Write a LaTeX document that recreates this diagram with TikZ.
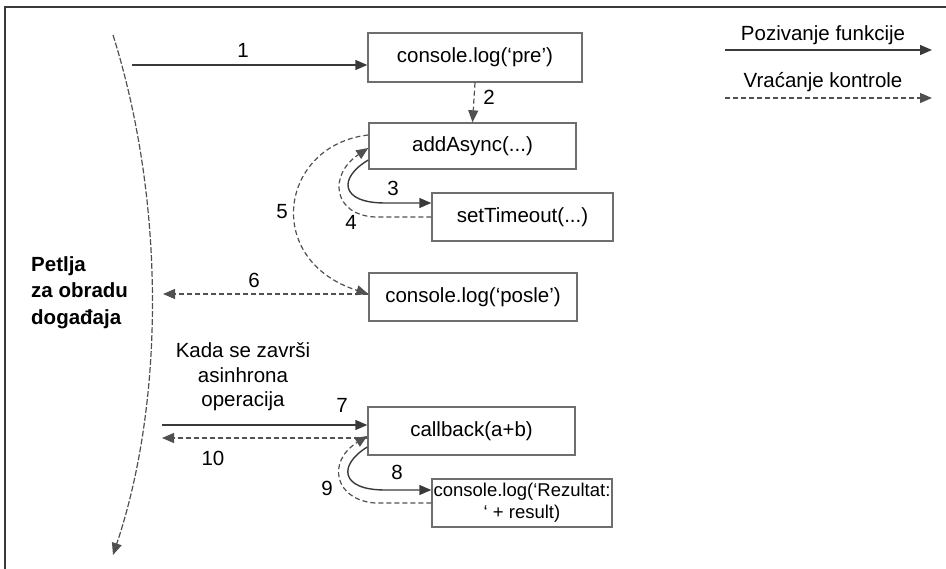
\documentclass[tikz,border=0pt]{standalone}
\usepackage{fontspec}
\setmainfont{Liberation Sans}
\usetikzlibrary{arrows.meta,calc}
\definecolor{ink}{HTML}{3A3A3A}
\definecolor{boxgray}{HTML}{6E6E6E}
\definecolor{dashgray}{HTML}{505050}
\begin{document}
\begin{tikzpicture}[x=1pt,y=-1pt,
  txt/.style={font=\fontsize{20.5}{24}\selectfont,text=black,inner sep=0pt},
  box/.style={draw=boxgray,line width=1.4pt,inner sep=0pt,font=\fontsize{20.5}{22}\selectfont,text=black},
  tipshape/.style={-{Triangle[length=12pt,width=10pt]}},
  call/.style={draw=ink,line width=1.4pt,tipshape},
  ret/.style={draw=dashgray,line width=1.2pt,dash pattern=on 5pt off 3pt,tipshape}]
\useasboundingbox (0,0) rectangle (946,569);
% partial frame
\draw[ink,line width=1.4pt] (5,569) -- (5,7) -- (946,7);

% function boxes
\node[box,minimum width=214pt,minimum height=49pt] (pre)      at (475,57.5) {console.log(‘pre’)};
\node[box,minimum width=207pt,minimum height=46pt] (async)    at (472.5,146) {addAsync(...)};
\node[box,minimum width=181pt,minimum height=48pt] (timeout)  at (522.5,217) {setTimeout(...)};
\node[box,minimum width=208pt,minimum height=48pt] (posle)    at (473,297) {console.log(‘posle’)};
\node[box,minimum width=207pt,minimum height=48pt] (callback) at (471.5,431) {callback(a+b)};
\node[box,minimum width=180pt,minimum height=48pt,align=center,font=\fontsize{18.5}{22}\selectfont] (rez) at (522,503) {console.log(‘Rezultat:\\‘ + result)};

% event loop
\coordinate (loopTop) at (113,35);
\coordinate (loopEnd) at (113,555);
\draw[ret,dash pattern=on 6pt off 2pt] (loopTop) .. controls (165,200) and (165,400) .. (loopEnd);
\node[txt,font=\fontsize{20.5}{26.5}\selectfont\bfseries,align=left,anchor=north west] (loop) at (31,256) {Petlja\\za obradu\\događaja};

% step 1
\coordinate (s1) at (132,65);
\draw[call] (s1) -- (s1 -| pre.west);
\node[txt] (n1) at (243,50) {1};
% step 2
\draw[ret] (pre.south) -- (async.north);
\node[txt] (n2) at (489,97) {2};
% step 3
\draw[call] ([yshift=-14pt]async.west) .. controls (338,178) and (340,203) .. (385,203) -- ([yshift=14pt]timeout.west);
\node[txt] (n3) at (393,188) {3};
% step 4
\draw[ret] (timeout.west) -- (375,217) .. controls (333,215) and (328,175) .. ([yshift=-2pt]async.west);
\node[txt] (n4) at (351,222) {4};
% step 5
\draw[ret] ([yshift=11pt]async.west) .. controls (280,145) and (262,260) .. ([yshift=3pt]posle.west);
\node[txt] (n5) at (282,212) {5};
% step 6
\coordinate (s6) at (163,294);
\draw[ret] ([yshift=3pt]posle.west) -- (s6);
\node[txt] (n6) at (254,280) {6};
% asynchronous completion note
\node[txt,align=center,font=\fontsize{20.5}{24.5}\selectfont] (note) at (243,377) {Kada se završi\\asinhrona\\operacija};
% step 7
\coordinate (s7) at (162,425);
\draw[call] (s7) -- (s7 -| callback.west);
\node[txt] (n7) at (342,405) {7};
% step 10
\coordinate (s10) at (162,438);
\draw[ret] (s10 -| callback.west) -- (s10);
\node[txt] (n10) at (213,458) {10};
% step 8
\draw[call] ([yshift=-16pt]callback.west) .. controls (338,465) and (340,490) .. (385,490) -- ([yshift=13pt]rez.west);
\node[txt] (n8) at (397,472) {8};
% step 9
\draw[ret] (rez.west) -- (375,503) .. controls (335,500) and (326,462) .. ([yshift=-5pt]callback.west);
\node[txt] (n9) at (327,488) {9};

% legend
\coordinate (lcA) at (725,50);
\coordinate (lcB) at (932,50);
\coordinate (lrA) at (725,98);
\coordinate (lrB) at (932,98);
\draw[call] (lcA) -- (lcB);
\draw[ret] (lrA) -- (lrB);
\node[txt] (legCall) at (823,35) {Pozivanje funkcije};
\node[txt] (legRet) at (823,82) {Vraćanje kontrole};
\end{tikzpicture}
\end{document}
